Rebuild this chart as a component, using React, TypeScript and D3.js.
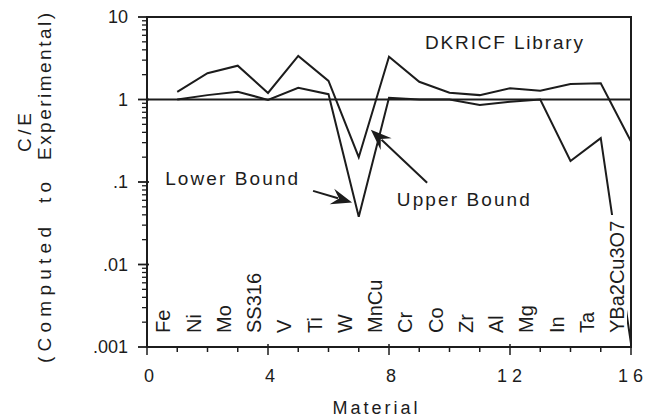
import React from 'react';
import * as d3 from 'd3';

// materials along the x axis (1..16)
const materials = ['Fe', 'Ni', 'Mo', 'SS316', 'V', 'Ti', 'W', 'MnCu', 'Cr', 'Co', 'Zr', 'Al', 'Mg', 'In', 'Ta', 'YBa2Cu3O7'];
const upperBound = [1.24, 2.08, 2.57, 1.2, 3.37, 1.68, 0.2, 3.3, 1.64, 1.21, 1.13, 1.37, 1.28, 1.54, 1.57, 0.31];
const lowerBound = [1.0, 1.13, 1.24, 0.99, 1.39, 1.16, 0.038, 1.05, 1.0, 1.0, 0.86, 0.94, 1.0, 0.18, 0.34, 0.0011];
const xTickLabels = [0, 4, 8, 12, 16];
const yTickValues = [10, 1, 0.1, 0.01, 0.001];
const yTickLabels = ['10', '1', '.1', '.01', '.001'];

const W = 653;
const H = 420;
const margin = { top: 17, right: 22, bottom: 73, left: 147 };
const FONT = '"Liberation Sans", Arial, Helvetica, sans-serif';
const INK = '#1c1c1c';

const x = d3.scaleLinear().domain([0, 16]).range([margin.left, W - margin.right]);
const y = d3.scaleLog().domain([0.001, 10]).range([H - margin.bottom, margin.top]);

const Arrow: React.FC<{ from: [number, number]; to: [number, number] }> = ({ from, to }) => {
  const x1 = x(from[0]), y1 = y(from[1]);
  const x2 = x(to[0]), y2 = y(to[1]);
  const ang = Math.atan2(y2 - y1, x2 - x1);
  const len = 21, half = 8;
  const bx = x2 - len * Math.cos(ang), by = y2 - len * Math.sin(ang);
  const px = -Math.sin(ang) * half, py = Math.cos(ang) * half;
  const head = `M${x2},${y2}L${bx + px},${by + py}L${bx + 0.35 * len * Math.cos(ang)},${by + 0.35 * len * Math.sin(ang)}L${bx - px},${by - py}Z`;
  return (
    <g>
      <line x1={x1} y1={y1} x2={bx + 0.3 * len * Math.cos(ang)} y2={by + 0.3 * len * Math.sin(ang)} stroke={INK} strokeWidth={2} />
      <path d={head} fill={INK} />
    </g>
  );
};

export default function App() {
  const idx = d3.range(1, 17);
  const line = d3.line<number>().x((_, i) => x(idx[i])).y(d => y(d));
  const x0 = x(0), x16 = x(16), yb = y(0.001), yt = y(10);

  // minor log ticks
  const minor: number[] = [];
  for (let e = -3; e < 1; e++) for (let m = 2; m <= 9; m++) minor.push(m * Math.pow(10, e));

  return (
    <svg width={W} height={H} style={{ position: 'absolute', left: 0, top: 0, background: '#fff' }} fontFamily={FONT}>
      <rect width={W} height={H} fill="#fff" />

      {/* y axis ticks */}
      {minor.map((v, i) => (
        <line key={'m' + i} x1={x0 - 5} x2={x0} y1={y(v)} y2={y(v)} stroke={INK} strokeWidth={1.3} />
      ))}
      {yTickValues.map((v, i) => (
        <g key={'y' + i}>
          <line x1={x0 - 9} x2={x0 + 2} y1={y(v)} y2={y(v)} stroke={INK} strokeWidth={1.8} />
          <text x={128} y={y(v)} dy="0.35em" textAnchor="end" fontSize={18} fill={INK}>{yTickLabels[i]}</text>
        </g>
      ))}

      {/* x axis ticks */}
      {d3.range(0, 17).map(v => (
        <line key={'x' + v} x1={x(v)} x2={x(v)} y1={yb - (v % 4 === 0 ? 3 : 0)} y2={yb + (v % 4 === 0 ? 8 : 5)} stroke={INK} strokeWidth={1.5} />
      ))}
      {xTickLabels.map(v => (
        <text key={'xl' + v} x={x(v) + 2} y={382} textAnchor="middle" fontSize={18} letterSpacing={v >= 10 ? 5 : 0} fill={INK}>{v}</text>
      ))}

      {/* frame */}
      <rect x={x0} y={yt} width={x16 - x0} height={yb - yt} fill="none" stroke={INK} strokeWidth={2} />

      {/* reference line at C/E = 1 */}
      <line x1={x0} x2={x16} y1={y(1)} y2={y(1)} stroke={INK} strokeWidth={2} />

      {/* bounds */}
      <path d={line(upperBound) || ''} fill="none" stroke={INK} strokeWidth={2} strokeLinejoin="miter" />
      <path d={line(lowerBound) || ''} fill="none" stroke={INK} strokeWidth={2} strokeLinejoin="miter" />

      {/* material labels */}
      {materials.map((m, i) => {
        const bx = x(i + 1) - 7;
        const by = 333;
        return (
          <g key={m}>
            {m === 'YBa2Cu3O7' && <rect x={bx - 16} y={by - 118} width={19} height={122} fill="#fff" />}
            <text transform={`translate(${bx},${by}) rotate(-90)`} fontSize={20} fill={INK}>{m}</text>
          </g>
        );
      })}

      {/* annotations */}
      <text x={x(0.6)} y={y(0.092)} fontSize={19} textLength={133} lengthAdjust="spacing" fill={INK}>Lower Bound</text>
      <text x={x(8.26)} y={y(0.051)} fontSize={19} textLength={133} lengthAdjust="spacing" fill={INK}>Upper Bound</text>
      <text x={x(9.19)} y={y(4.1)} fontSize={19} textLength={158} lengthAdjust="spacing" fill={INK}>DKRICF Library</text>
      <Arrow from={[5.49, 0.078]} to={[6.78, 0.0565]} />
      <Arrow from={[9.26, 0.098]} to={[7.4, 0.43]} />

      {/* axis titles */}
      <text x={375} y={414} textAnchor="middle" fontSize={18} textLength={85} lengthAdjust="spacing" fill={INK}>Material</text>
      <text transform="translate(31,152) rotate(-90)" fontSize={19} textLength={39} lengthAdjust="spacing" fill={INK}>C/E</text>
      <text transform="translate(51,363) rotate(-90)" fontSize={19} textLength={136} lengthAdjust="spacing" fill={INK}>(Computed</text>
      <text transform="translate(51,203) rotate(-90)" fontSize={19} textLength={21} lengthAdjust="spacing" fill={INK}>to</text>
      <text transform="translate(51,160) rotate(-90)" fontSize={19} textLength={147} lengthAdjust="spacing" fill={INK}>Experimental)</text>
    </svg>
  );
}
